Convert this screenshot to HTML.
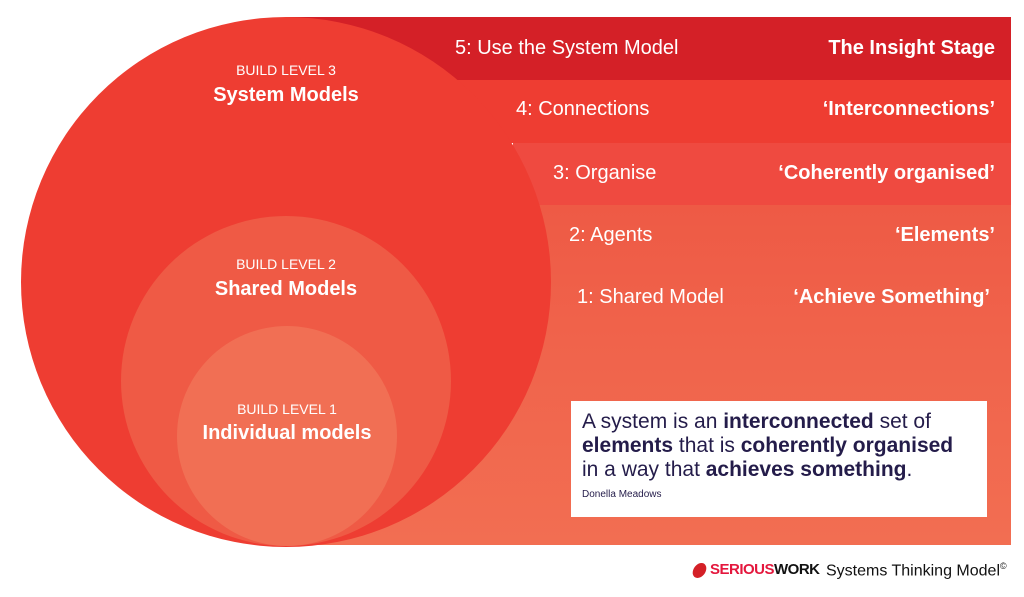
<!DOCTYPE html>
<html><head><meta charset="utf-8"><style>
body{margin:0;width:1024px;height:597px;background:#fff;overflow:hidden;position:relative;font-family:"Liberation Sans",sans-serif}
.a{position:absolute}
.t{position:absolute;color:#fff;font-size:20px;white-space:nowrap}
.b{font-weight:bold}
</style></head><body>
<svg class="a" style="left:0;top:0" width="1024" height="597">
<defs><linearGradient id="g" x1="0" y1="0" x2="0" y2="1"><stop offset="0" stop-color="#ee5a45"/><stop offset="0.4" stop-color="#f0634b"/><stop offset="1" stop-color="#f26e52"/></linearGradient></defs>
<rect x="286" y="205" width="725" height="340" fill="url(#g)"/>
<rect x="513" y="143" width="498" height="62" fill="#ef4a40"/>
<rect x="286" y="80" width="725" height="63" fill="#ee3d32"/>
<rect x="286" y="17" width="725" height="63" fill="#d42027"/>
<circle cx="286" cy="282" r="265" fill="#ee3d32"/>
<circle cx="286" cy="381" r="165" fill="#ef5a45"/>
<circle cx="287" cy="436" r="110" fill="#f16f54"/>
</svg>
<div class="t" style="left:0;width:572px;text-align:center;top:62px;font-size:14px">BUILD LEVEL 3</div>
<div class="t b" style="left:0;width:572px;text-align:center;top:84px;font-size:20px">System Models</div>
<div class="t" style="left:0;width:572px;text-align:center;top:256px;font-size:14px">BUILD LEVEL 2</div>
<div class="t b" style="left:0;width:572px;text-align:center;top:278px;font-size:20px">Shared Models</div>
<div class="t" style="left:0;width:574px;text-align:center;top:401px;font-size:14px">BUILD LEVEL 1</div>
<div class="t b" style="left:0;width:574px;text-align:center;top:422px;font-size:20px">Individual models</div>
<div class="t" style="left:455px;top:37px">5: Use the System Model</div>
<div class="t b" style="right:29px;top:37px">The Insight Stage</div>
<div class="t" style="left:516px;top:98px">4: Connections</div>
<div class="t b" style="right:29px;top:98px">‘Interconnections’</div>
<div class="t" style="left:553px;top:162px">3: Organise</div>
<div class="t b" style="right:29px;top:162px">‘Coherently organised’</div>
<div class="t" style="left:569px;top:224px">2: Agents</div>
<div class="t b" style="right:29px;top:224px">‘Elements’</div>
<div class="t" style="left:577px;top:286px">1: Shared Model</div>
<div class="t b" style="right:34px;top:286px">‘Achieve Something’</div>
<div class="a" style="left:571px;top:401px;width:416px;height:116px;background:#fff;color:#241c4a">
<div style="position:absolute;left:11px;top:9px;font-size:21px;line-height:24px;white-space:nowrap">A system is an <b>interconnected</b> set of<br><b>elements</b> that is <b>coherently organised</b><br>in a way that <b>achieves something</b>.</div>
<div style="position:absolute;left:11px;top:88px;font-size:10px">Donella Meadows</div>
</div>
<div class="a" style="left:693px;top:563px;width:13px;height:15px;border-radius:50%;background:#d42027;transform:skewX(-15deg)"></div>
<div class="a" style="left:710px;top:561px;font-size:15px;font-weight:bold;white-space:nowrap;letter-spacing:-0.5px"><span style="color:#e4173d">SERIOUS</span><span style="color:#111">WORK</span></div>
<div class="a" style="left:826px;top:561px;font-size:16px;color:#111;white-space:nowrap">Systems Thinking Model<sup style="font-size:9px">©</sup></div>
</body></html>
